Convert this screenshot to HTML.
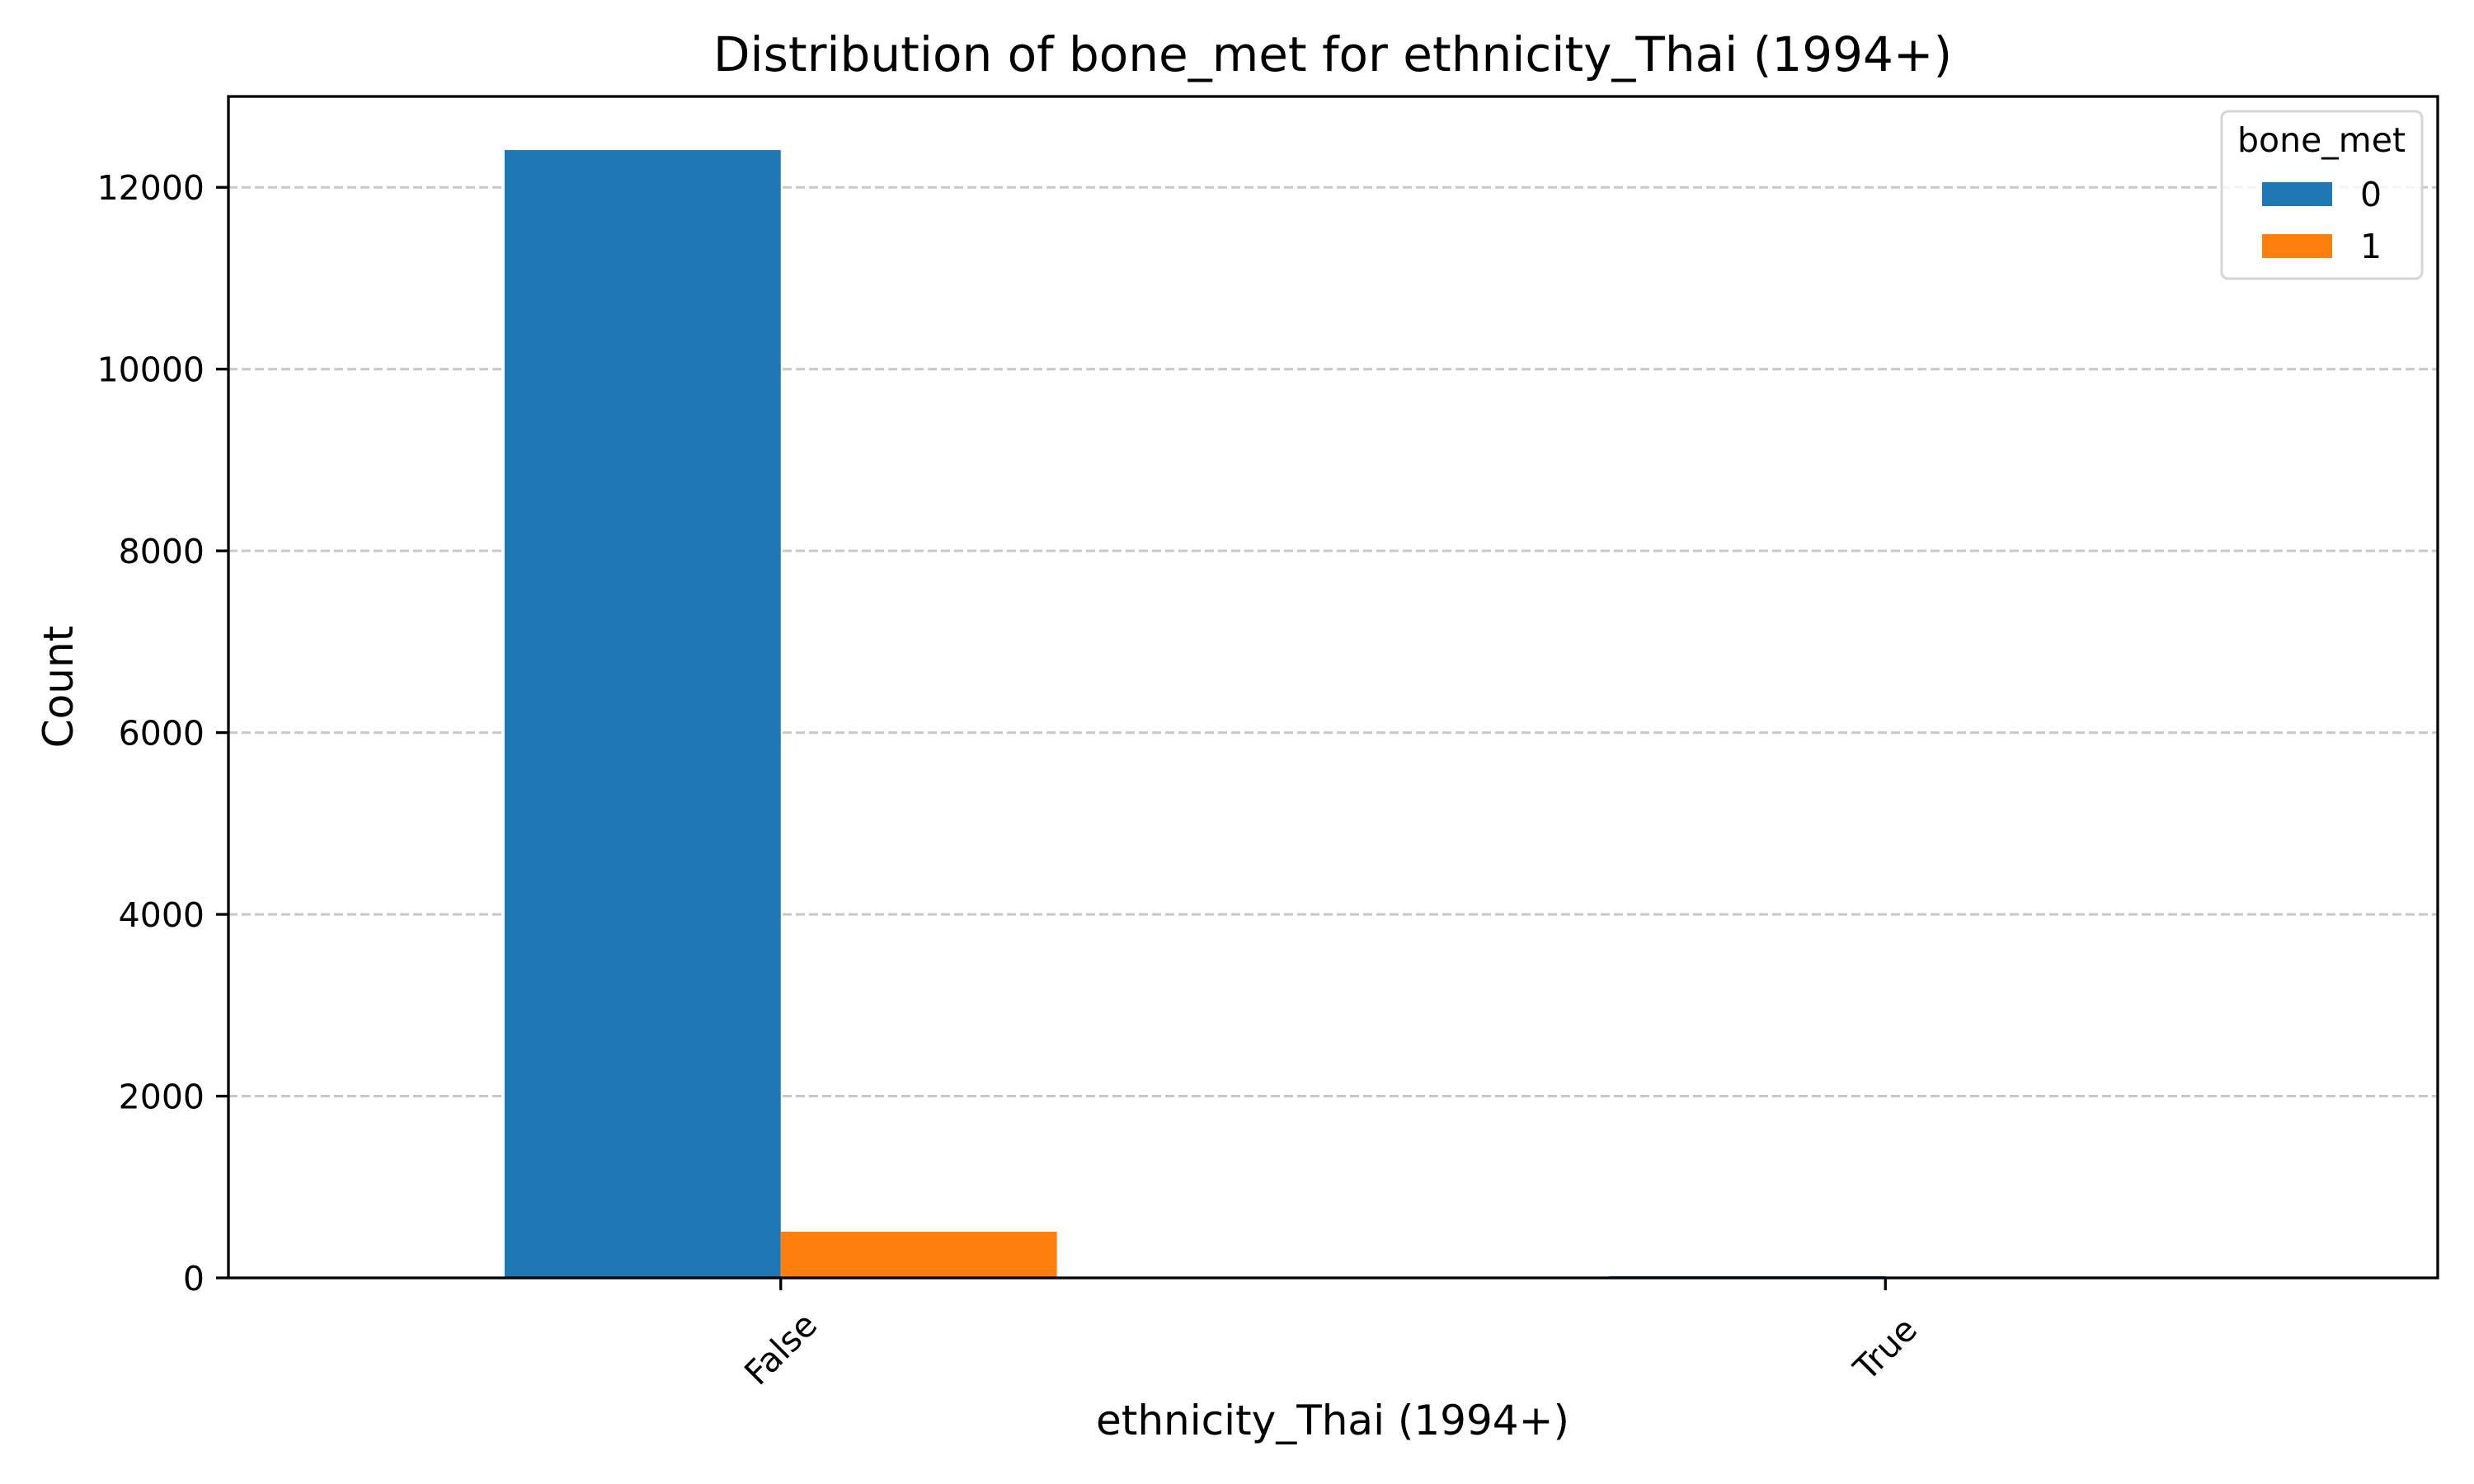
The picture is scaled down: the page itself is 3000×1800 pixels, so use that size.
<!DOCTYPE html>
<html><head><meta charset="utf-8"><style>body{margin:0;background:#fff}svg{display:block;font-family:"DejaVu Sans","Liberation Sans",sans-serif}</style></head>
<body>
<svg id="chart" width="3000" height="1800" viewBox="0 0 3000 1800">
<rect width="3000" height="1800" fill="#fff"/>
<g id="grid"></g><g id="bars"></g><g id="axes"></g>
<text x="1616" y="86" text-anchor="middle" font-size="58">Distribution of bone_met for ethnicity_Thai (1994+)</text>
<text x="1616" y="1740" text-anchor="middle" font-size="50">ethnicity_Thai (1994+)</text>
<text transform="translate(88,833) rotate(-90)" text-anchor="middle" font-size="50">Count</text>
<g>
<rect x="2694" y="135" width="243" height="203" rx="8" fill="#fff" fill-opacity="0.8" stroke="#d5d5d5" stroke-width="3"/>
<text x="2815" y="184" text-anchor="middle" font-size="41">bone_met</text>
<rect x="2743" y="221" width="85" height="29" fill="#1f77b4"/>
<text x="2862" y="250" font-size="41">0</text>
<rect x="2743" y="284" width="85" height="29" fill="#ff7f0e"/>
<text x="2862" y="313" font-size="41">1</text>
</g>
</svg>
<script>
const categories = ["False", "True"];
const series0 = [12410, 20];
const series1 = [508, 2];
const yTicks = [0, 2000, 4000, 6000, 8000, 10000, 12000];
const seriesNames = ["0", "1"];

const L = 277, R = 2956, T = 117, B = 1550, yMax = 13000;
const NS = "http://www.w3.org/2000/svg";
function sx(i) { return L + (i + 0.5) * (R - L) / categories.length; }
function sy(v) { return B - v / yMax * (B - T); }
function mk(tag, attrs, parent) { const e = document.createElementNS(NS, tag); for (const k in attrs) e.setAttribute(k, attrs[k]); parent.appendChild(e); return e; }
const grid = document.getElementById('grid'), bars = document.getElementById('bars'), axes = document.getElementById('axes');
const step = (R - L) / categories.length, bw = step / 4;
yTicks.forEach(v => {
  const y = sy(v);
  const g = mk('line', {x1: L, x2: R, y1: y, y2: y, stroke: '#b0b0b0', 'stroke-opacity': 0.7, 'stroke-width': 3, 'stroke-dasharray': '11,5'}, grid);
  
  
  const t = mk('line', {x1: L - 15, x2: L, y1: y, y2: y, stroke: '#000', 'stroke-width': 3.3}, axes);
  
  
  const lb = mk('text', {x: L - 29, y: y + 15, 'text-anchor': 'end', 'font-size': 41}, axes);
  lb.textContent = v;
  
  
});
[series0, series1].forEach((s, si) => {
  s.forEach((v, i) => {
    const x = sx(i) - bw + si * bw;
    const r = mk('rect', {x: x, y: sy(v), width: bw, height: B - sy(v), fill: si ? '#ff7f0e' : '#1f77b4'}, bars);
    
    
  });
});
categories.forEach((c, i) => {
  const x = sx(i);
  const t = mk('line', {x1: x, x2: x, y1: B, y2: B + 15, stroke: '#000', 'stroke-width': 3.3}, axes);
  
  
  const lb = mk('text', {transform: 'translate(' + x + ',1636) rotate(-45)', 'text-anchor': 'middle', 'dominant-baseline': 'central', 'font-size': 41}, axes);
  lb.textContent = c;
  
  
});
const fr = mk('rect', {x: L, y: T, width: R - L, height: B - T, fill: 'none', stroke: '#000', 'stroke-width': 3.3}, axes);


</script>
</body></html>
